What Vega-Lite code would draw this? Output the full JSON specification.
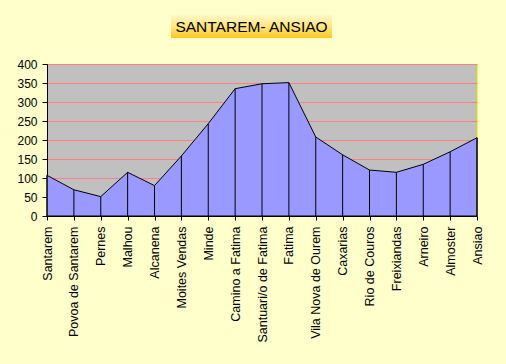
{
  "$schema": "https://vega.github.io/schema/vega-lite/v6.json",
  "background": "#FFFFCC",
  "padding": {"left": 16, "top": 15, "right": 22, "bottom": 22},
  "config": {
    "font": "Liberation Sans",
    "view": {"stroke": null},
    "axis": {"domainColor": "#000000", "tickColor": "#000000", "labelColor": "#000000", "title": null, "labelFont": "Liberation Sans"}
  },
  "spacing": 19,
  "vconcat": [
    {
      "spacing": 0,
      "hconcat": [
        {
          "width": 124,
          "height": 23,
          "data": {"values": [{"t": ""}]},
          "mark": {"type": "text"},
          "encoding": {"text": {"field": "t", "type": "nominal"}}
        },
        {
          "width": 161,
          "height": 23,
          "view": {
            "stroke": null,
            "fill": {"gradient": "linear", "x1": 0, "y1": 0, "x2": 0, "y2": 1, "stops": [{"offset": 0, "color": "#FFF8C8"}, {"offset": 0.5, "color": "#FFE680"}, {"offset": 1, "color": "#FFC820"}]}
          },
          "data": {"values": [{"t": "SANTAREM- ANSIAO"}]},
          "mark": {"type": "text", "fontSize": 15.5, "font": "Liberation Sans", "color": "#000000"},
          "encoding": {"text": {"field": "t", "type": "nominal"}}
        }
      ]
    },
    {
      "width": 430,
      "height": 152,
      "view": {"fill": "#C0C0C0", "stroke": "#FFFF00", "strokeWidth": 1},
      "data": {
        "values": [
          {"place": "Santarem", "alt": 107},
          {"place": "Povoa de Santarem", "alt": 69},
          {"place": "Pernes", "alt": 51},
          {"place": "Malhou", "alt": 115},
          {"place": "Alcanena", "alt": 80},
          {"place": "Moites Vendas", "alt": 158},
          {"place": "Minde", "alt": 243},
          {"place": "Camino a Fatima", "alt": 335},
          {"place": "Santuari/o de Fatima", "alt": 348},
          {"place": "Fatima", "alt": 351},
          {"place": "Vila Nova de Ourem", "alt": 208},
          {"place": "Caxarias", "alt": 161},
          {"place": "Rio de Couros", "alt": 121},
          {"place": "Freixiandas", "alt": 115},
          {"place": "Arneiro", "alt": 136},
          {"place": "Almoster", "alt": 169},
          {"place": "Ansiao", "alt": 206}
        ]
      },
      "encoding": {
        "x": {
          "field": "place", "type": "ordinal", "sort": null,
          "scale": {"type": "point", "padding": 0},
          "axis": {"labelAngle": -90, "labelFontSize": 12.5, "tickSize": 4, "labelPadding": 6, "grid": false}
        },
        "y": {
          "field": "alt", "type": "quantitative",
          "scale": {"domain": [0, 400], "nice": false},
          "axis": {
            "values": [0, 50, 100, 150, 200, 250, 300, 350, 400],
            "labelFontSize": 12, "tickSize": 5, "labelPadding": 5,
            "grid": true, "gridColor": "#FF8080", "gridOpacity": 1, "gridWidth": 1
          }
        }
      },
      "layer": [
        {"mark": {"type": "area", "color": "#9999FF", "fillOpacity": 1, "stroke": "#000000", "strokeWidth": 1, "interpolate": "linear"}},
        {"mark": {"type": "rule", "color": "#000000", "strokeWidth": 1}, "encoding": {"y2": {"datum": 0}}}
      ]
    }
  ]
}
